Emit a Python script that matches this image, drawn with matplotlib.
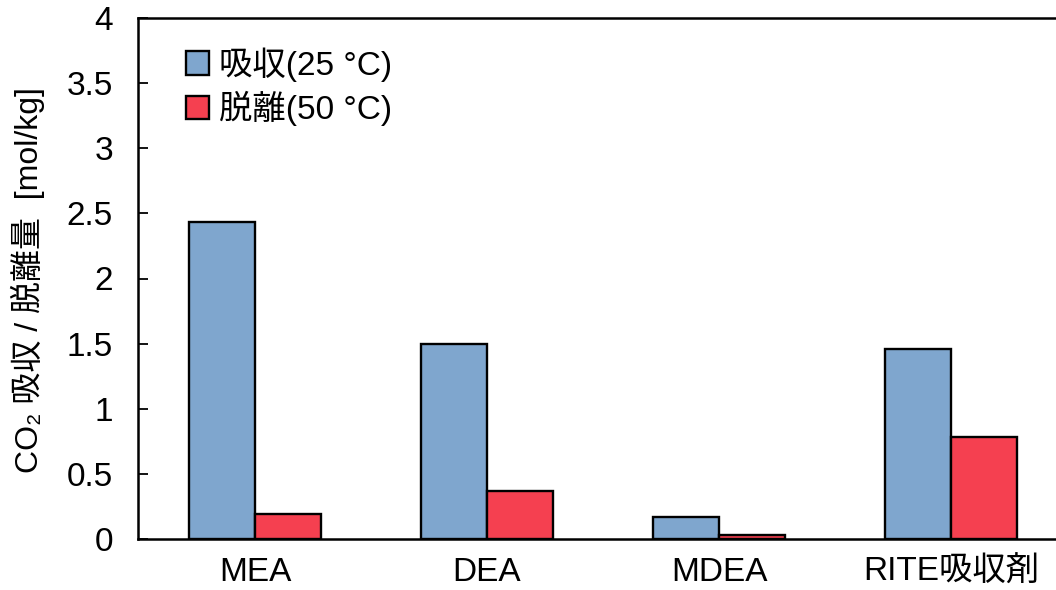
import matplotlib
matplotlib.use("Agg")
import matplotlib.pyplot as plt
import numpy as np

plt.rcParams['font.family'] = ['Liberation Sans', 'Noto Sans CJK JP', 'DejaVu Sans']

# CO2 uptake / release per absorbent
categories = ['MEA', 'DEA', 'MDEA', 'RITE吸収剤']
absorb_25c = [2.43, 1.50, 0.17, 1.46]
desorb_50c = [0.19, 0.37, 0.03, 0.78]
series_labels = ['吸収(25 °C)', '脱離(50 °C)']
yticks = [0, 0.5, 1, 1.5, 2, 2.5, 3, 3.5, 4]
ytick_labels = ['0', '0.5', '1', '1.5', '2', '2.5', '3', '3.5', '4']
ylabel = 'CO₂ 吸収 / 脱離量  [mol/kg]'

blue = '#7FA6CE'
red = '#F54050'
fs = 24

fig = plt.figure(figsize=(10.56, 5.90), dpi=100)
ax = fig.add_axes([138 / 1056, 1 - 539 / 590, 930 / 1056, 521 / 590])

x = np.arange(len(categories))
w = 0.284
ax.bar(x - w / 2, absorb_25c, w, color=blue, edgecolor='black', linewidth=1.7,
       label=series_labels[0], zorder=2)
ax.bar(x + w / 2, desorb_50c, w, color=red, edgecolor='black', linewidth=1.7,
       label=series_labels[1], zorder=2)

ax.set_xlim(-0.504, 3.504)
ax.set_ylim(0, 4)
ax.set_xticks(x)
ax.set_xticklabels(categories, fontsize=fs)
ax.set_yticks(yticks)
ax.set_yticklabels(ytick_labels, fontsize=fs)
ax.tick_params(axis='x', length=0, pad=13)
ax.tick_params(axis='y', direction='in', length=7, width=1.3, pad=18)

for side in ['left', 'top', 'bottom', 'right']:
    ax.spines[side].set_linewidth(1.8)

fig.text(28 / 1056, 1 - 280 / 590, ylabel, rotation=90, ha='center', va='center',
         fontsize=23)

leg = ax.legend(loc='upper left', bbox_to_anchor=(48 / 930, 1 - 29 / 521),
                frameon=False, fontsize=fs, borderpad=0, borderaxespad=0,
                handlelength=0.7, handleheight=0.7, handletextpad=0.3,
                labelspacing=0.28)

fig.savefig('out.png', dpi=100)
